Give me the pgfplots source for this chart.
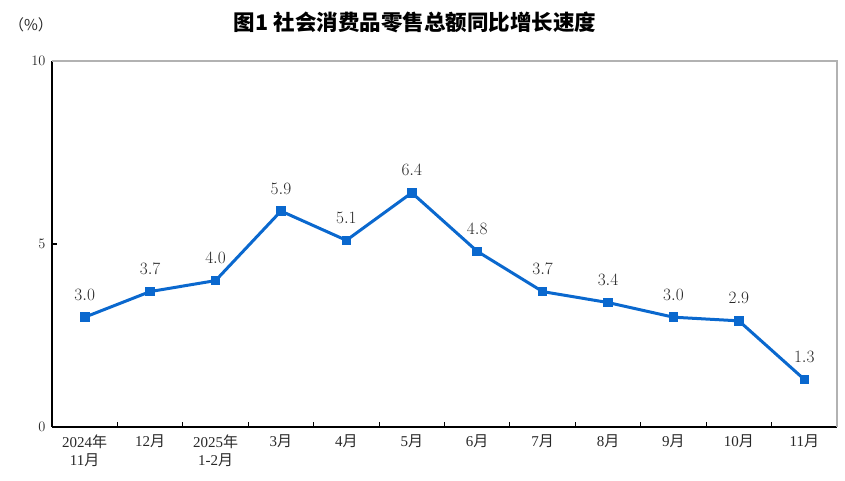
\documentclass[border=0pt]{standalone}
\usepackage{pgfplots}
\pgfplotsset{compat=1.18}
\usepackage{fontspec}
\setmainfont{Liberation Serif}
\newfontfamily\cjk{Noto Sans CJK SC}
\definecolor{lineblue}{RGB}{10,104,206}
\definecolor{txt}{RGB}{40,40,40}
\begin{document}
\begin{tikzpicture}
\useasboundingbox (0pt,0pt) rectangle (845pt,481pt);
\node[font=\fontsize{21.5}{24}\selectfont\cjk\bfseries] at (415pt,459pt) {图1\ 社会消费品零售总额同比增长速度};
\node[font=\fontsize{15}{17}\selectfont\cjk, text=txt] at (31pt,456pt) {（\%）};
\begin{axis}[
  at={(52pt,54pt)}, anchor=south west, scale only axis,
  width=785pt, height=366pt,
  xmin=-0.5, xmax=11.5, ymin=0, ymax=10,
  axis x line*=bottom, axis y line*=left,
  axis line style={black, line width=1.3pt},
  xtick={-0.5,0.5,...,11.5},
  x tick label as interval,
  xticklabels={{2024{\cjk 年}\\11{\cjk 月}},{12{\cjk 月}},{2025{\cjk 年}\\1-2{\cjk 月}},{3{\cjk 月}},{4{\cjk 月}},{5{\cjk 月}},{6{\cjk 月}},{7{\cjk 月}},{8{\cjk 月}},{9{\cjk 月}},{10{\cjk 月}},{11{\cjk 月}}},
  xticklabel style={align=center, font=\fontsize{15}{18}\selectfont, text=txt, yshift=-4pt},
  ytick={0,5,10},
  yticklabel style={font=\fontsize{15}{16}\selectfont, text=txt, xshift=-3pt},
  tick align=inside,
  major tick length=5pt,
  tick style={black, line width=1.1pt},
  clip=false,
  nodes near coords,
  point meta=y,
  nodes near coords style={font=\fontsize{17.5}{19}\selectfont, text=txt, anchor=base, yshift=17pt,
    /pgf/number format/.cd, fixed, fixed zerofill, precision=1},
]
\draw[gray!60, line width=1.5pt] (rel axis cs:0,1) -- (rel axis cs:1,1) -- (rel axis cs:1,0);
\addplot[lineblue, line width=3pt, mark=square*, mark size=4.3pt, mark options={solid, fill=lineblue, line width=0pt}]
coordinates {(0,3.0) (1,3.7) (2,4.0) (3,5.9) (4,5.1) (5,6.4) (6,4.8) (7,3.7) (8,3.4) (9,3.0) (10,2.9) (11,1.3)};
\end{axis}
\end{tikzpicture}
\end{document}
